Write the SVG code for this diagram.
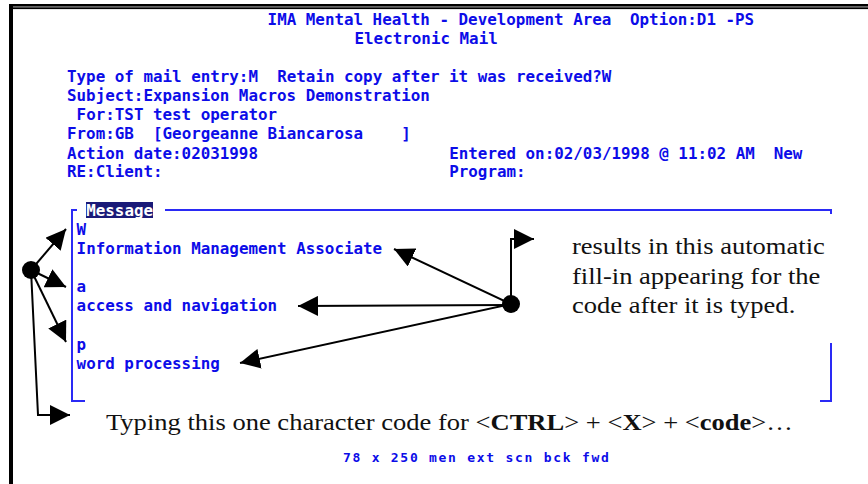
<svg xmlns="http://www.w3.org/2000/svg" width="868" height="484" viewBox="0 0 868 484">
<style>
.m{font-family:"DejaVu Sans Mono","Liberation Mono",monospace;font-size:15.87px;font-weight:bold;fill:#0c0ce8}
.s{font-family:"DejaVu Sans Mono","Liberation Mono",monospace;font-size:13px;font-weight:bold;fill:#0c0ce8;letter-spacing:1.73px}
.w{fill:#ffffff}
.ann{font-family:"Liberation Serif","Times New Roman",serif;font-size:24px;fill:#111}
.b{font-weight:bold}
.br{fill:none;stroke:#2a2af5;stroke-width:2}
.c{fill:none;stroke:#000;stroke-width:2}
</style>
<defs>
<marker id="ah" markerUnits="userSpaceOnUse" markerWidth="20" markerHeight="20" refX="20" refY="10" orient="auto" viewBox="0 0 20 20">
<path d="M0,0 L20,10 L0,20 z" fill="#000"/>
</marker>
</defs>
<rect width="868" height="484" fill="#fff"/>
<g id="frame">
<rect x="9" y="4" width="859" height="2.6" fill="#000"/>
<rect x="13" y="7.3" width="855" height="1.8" fill="#000"/>
<rect x="9" y="4" width="4" height="480" fill="#000"/>
</g>
<g id="screen-header">
<text class="m" x="267.6" y="25">IMA Mental Health - Development Area</text>
<text class="m" x="630" y="25">Option:D1 -PS</text>
<text class="m" x="354.5" y="44">Electronic Mail</text>
<text class="m" x="67" y="82">Type of mail entry:M</text>
<text class="m" x="277.2" y="82">Retain copy after it was received?W</text>
<text class="m" x="67" y="101">Subject:Expansion Macros Demonstration</text>
<text class="m" x="76.6" y="120">For:TST test operator</text>
<text class="m" x="67" y="139">From:GB</text>
<text class="m" x="153" y="139">[Georgeanne Biancarosa</text>
<text class="m" x="401.3" y="139">]</text>
<text class="m" x="67" y="158.5">Action date:02031998</text>
<text class="m" x="449.2" y="158.5">Entered on:02/03/1998 @ 11:02 AM</text>
<text class="m" x="773.7" y="158.5">New</text>
<text class="m" x="67" y="177">RE:Client:</text>
<text class="m" x="449.2" y="177">Program:</text>
</g>
<g id="message-box">
<path class="br" d="M77,210 H72 V401 H85"/>
<path class="br" d="M165,210 H831 V214"/>
<path class="br" d="M831,343 V401 H820"/>
<rect x="86" y="202" width="67" height="16" fill="#1a1a78"/>
<text class="m w" x="86.2" y="216">Message</text>
<text class="m" x="76.6" y="235">W</text>
<text class="m" x="76.6" y="254">Information Management Associate</text>
<text class="m" x="76.6" y="292">a</text>
<text class="m" x="76.6" y="311">access and navigation</text>
<text class="m" x="76.6" y="349.5">p</text>
<text class="m" x="76.6" y="368.5">word processing</text>
</g>
<g id="status-line">
<text class="s" x="343" y="462">78 x 250 men ext scn bck fwd</text>
</g>
<g id="note-results">
<text class="ann" transform="translate(572,254) scale(1.106,1)">results in this automatic</text>
<text class="ann" transform="translate(572,283.5) scale(1.106,1)">fill-in appearing for the</text>
<text class="ann" transform="translate(572,313) scale(1.106,1)">code after it is typed.</text>
</g>
<g id="note-typing">
<text class="ann" transform="translate(106,429.5) scale(1.106,1)">Typing this one character code for &lt;<tspan class="b">CTRL</tspan>&gt; + &lt;<tspan class="b">X</tspan>&gt; + &lt;<tspan class="b">code</tspan>&gt;…</text>
</g>
<g id="connectors">
<path class="c" d="M511,304 V239 H534" marker-end="url(#ah)"/>
<path class="c" d="M511,304 L394,249" marker-end="url(#ah)"/>
<path class="c" d="M511,305 L298,306" marker-end="url(#ah)"/>
<path class="c" d="M511,304 L240,363" marker-end="url(#ah)"/>
<path class="c" d="M31,270 L66,229" marker-end="url(#ah)"/>
<path class="c" d="M31,270 L66,287" marker-end="url(#ah)"/>
<path class="c" d="M31,270 L66,342" marker-end="url(#ah)"/>
<path class="c" d="M31,270 L38,415 H70" marker-end="url(#ah)"/>
</g>
<g id="hub-right"><circle cx="511" cy="304" r="9" fill="#000"/></g>
<g id="hub-left"><circle cx="31" cy="270" r="9" fill="#000"/></g>
</svg>
